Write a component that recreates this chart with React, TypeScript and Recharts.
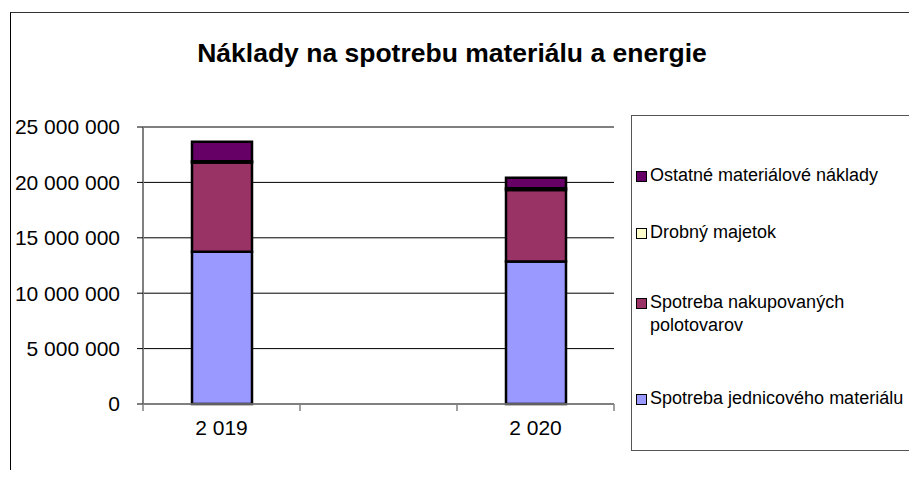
import React from 'react'
import { BarChart, Bar, XAxis, YAxis, CartesianGrid } from 'recharts'

const categories = ['2 019', '', '2 020']
const jednicovy = [13750000, null, 12850000]
const polotovary = [8050000, null, 6470000]
const drobny = [100000, null, 150000]
const ostatne = [1770000, null, 960000]
const yTicks = [0, 5000000, 10000000, 15000000, 20000000, 25000000]

const series = [
    { key: 'jednicovy', name: 'Spotreba jednicového materiálu', color: '#9999FF' },
    { key: 'polotovary', name: 'Spotreba nakupovaných polotovarov', color: '#993366' },
    { key: 'drobny', name: 'Drobný majetok', color: '#FFFFCC' },
    { key: 'ostatne', name: 'Ostatné materiálové náklady', color: '#660066' },
]

const data = categories.map((c, i) => ({
    year: c,
    jednicovy: jednicovy[i],
    polotovary: polotovary[i],
    drobny: drobny[i],
    ostatne: ostatne[i],
}))

const font = '"Liberation Sans", Arial, sans-serif'

const formatNum = (v: number) => String(v).replace(/\B(?=(\d{3})+(?!\d))/g, ' ')

// category ticks sit on the band edges, labels in the middle
const XTick = (props: any) => {
    const { x, y, payload, index, visibleTicksCount } = props
    const half = payload.offset || 0
    const isLast = index === visibleTicksCount - 1
    return (
        <g>
            <line x1={x - half} x2={x - half} y1={y - 8} y2={y - 1} stroke="#808080" strokeWidth={1.5} />
            {isLast && <line x1={x + half} x2={x + half} y1={y - 8} y2={y - 1} stroke="#808080" strokeWidth={1.5} />}
            <text x={x} y={y + 23} textAnchor="middle" fontSize={21} fontFamily={font} fill="#000">
                {payload.value}
            </text>
        </g>
    )
}

const LegendBox = () => {
    const rows = [
        { s: series[3], top: 48 },
        { s: series[2], top: 105 },
        { s: series[1], top: 175 },
        { s: series[0], top: 271 },
    ]
    return (
        <div style={{ position: 'absolute', left: 631, top: 115, width: 279, height: 334, border: '1px solid #555', background: '#fff', fontFamily: font, fontSize: 18, color: '#000' }}>
            {rows.map(r => (
                <div key={r.s.key} style={{ position: 'absolute', left: 4, top: r.top, display: 'flex', alignItems: 'flex-start', lineHeight: '23px' }}>
                    <span style={{ display: 'inline-block', width: 9, height: 9, border: '1.5px solid #000', background: r.s.color, marginTop: 7, marginRight: 3, flexShrink: 0 }} />
                    <span style={{ width: 265 }}>{r.s.name}</span>
                </div>
            ))}
        </div>
    )
}

export default function App() {
    return (
        <div style={{ position: 'relative', width: 917, height: 478, margin: -8, background: '#fff', overflow: 'hidden' }}>
            <div style={{ position: 'absolute', left: 10, top: 12, width: 920, height: 480, borderLeft: '1.5px solid #000', borderTop: '1.5px solid #333' }} />
            <div style={{ position: 'absolute', left: 0, top: 38, width: 904, textAlign: 'center', fontFamily: font, fontWeight: 'bold', fontSize: 26.5 }}>
                Náklady na spotrebu materiálu a energie
            </div>
            <div style={{ position: 'absolute', left: 0, top: 0 }}>
                <BarChart width={917} height={478} data={data} margin={{ top: 127, right: 303, bottom: 44, left: 0 }} barSize={60}>
                    <CartesianGrid vertical={false} stroke="#000" strokeWidth={1} />
                    <XAxis dataKey="year" height={30} axisLine={{ stroke: '#808080', strokeWidth: 1.5 }} tickLine={false} tick={<XTick />} interval={0} />
                    <YAxis
                        width={143}
                        domain={[0, 25000000]}
                        ticks={yTicks}
                        tickFormatter={formatNum}
                        axisLine={{ stroke: '#808080', strokeWidth: 2 }}
                        tickLine={{ stroke: '#000' }}
                        tickSize={6}
                        tickMargin={17}
                        tick={{ fontSize: 21, fontFamily: font, fill: '#000' }}
                    />
                    {series.map(s => (
                        <Bar key={s.key} dataKey={s.key} name={s.name} stackId="a" fill={s.color} stroke="#000" strokeWidth={2.5} isAnimationActive={false} />
                    ))}
                </BarChart>
            </div>
            <LegendBox />
        </div>
    )
}
